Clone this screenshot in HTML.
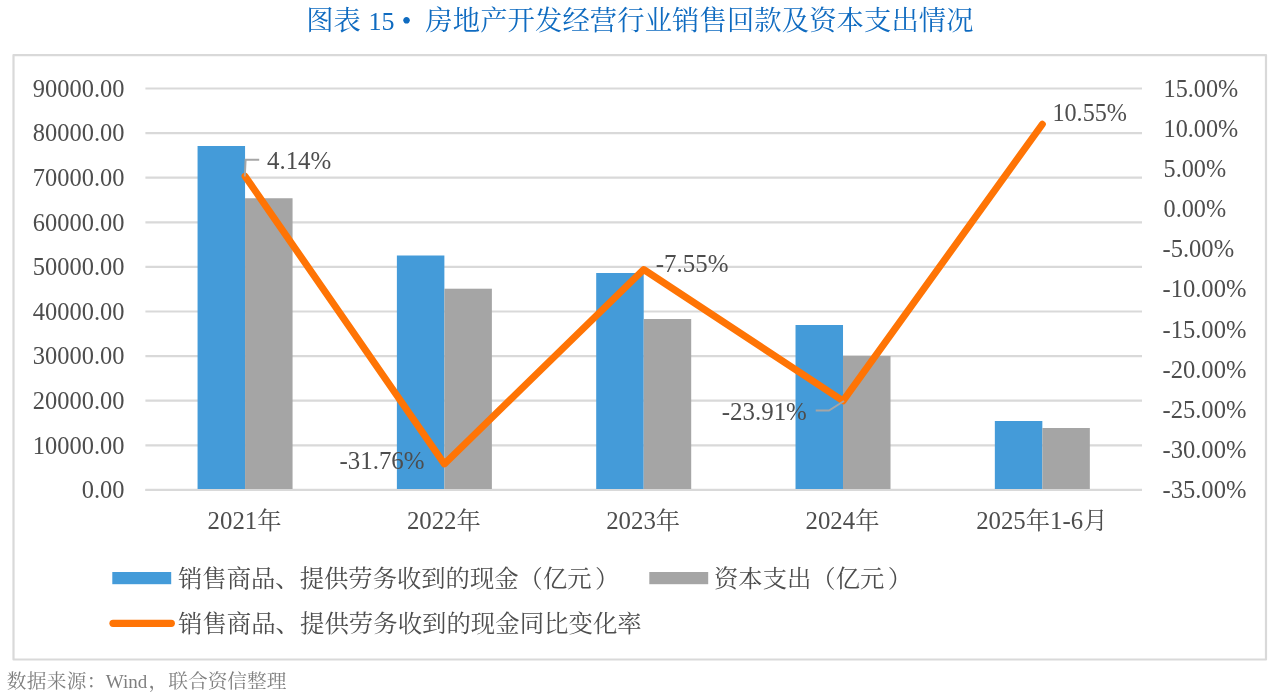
<!DOCTYPE html>
<html lang="zh-CN">
<head>
<meta charset="utf-8">
<title>图表 15 房地产开发经营行业销售回款及资本支出情况</title>
<style>
html,body{margin:0;padding:0;background:#fff;}
body{width:1280px;height:700px;overflow:hidden;position:relative;font-family:"Liberation Serif", "Noto Serif CJK SC", serif;}
svg{position:absolute;left:0;top:0;display:block;}
text{font-family:"Liberation Serif", "Noto Serif CJK SC", serif;}
.ax{font-size:24.2px;fill:#4d4d4d;}
.cj{font-size:24.34px;fill:#4d4d4d;}
.title{font-size:27.3px;fill:#0f6bc0;}
.xl{font-size:24.8px;}
.dl{font-size:24.9px;}
.src{font-size:19.7px;fill:#7f7f7f;}
</style>
</head>
<body>
<svg width="1280" height="700" viewBox="0 0 1280 700">
<rect x="0" y="0" width="1280" height="700" fill="#ffffff"/>
<text class="title" y="29.5"><tspan x="306.2">图表 </tspan><tspan x="368.5" style="font-size:26px">15</tspan><tspan x="401.7">• </tspan><tspan x="425.3" style="letter-spacing:0.12px">房地产开发经营行业销售回款及资本支出情况</tspan></text>
<rect x="13.5" y="55.1" width="1252.5" height="604.4" fill="#ffffff" stroke="#d9d9d9" stroke-width="2.2" stroke-linejoin="round"/>

<line x1="145.4" y1="88.50" x2="1142.0" y2="88.50" stroke="#d9d9d9" stroke-width="2.2"/>
<line x1="145.4" y1="133.10" x2="1142.0" y2="133.10" stroke="#d9d9d9" stroke-width="2.2"/>
<line x1="145.4" y1="177.70" x2="1142.0" y2="177.70" stroke="#d9d9d9" stroke-width="2.2"/>
<line x1="145.4" y1="222.30" x2="1142.0" y2="222.30" stroke="#d9d9d9" stroke-width="2.2"/>
<line x1="145.4" y1="266.90" x2="1142.0" y2="266.90" stroke="#d9d9d9" stroke-width="2.2"/>
<line x1="145.4" y1="311.50" x2="1142.0" y2="311.50" stroke="#d9d9d9" stroke-width="2.2"/>
<line x1="145.4" y1="356.10" x2="1142.0" y2="356.10" stroke="#d9d9d9" stroke-width="2.2"/>
<line x1="145.4" y1="400.70" x2="1142.0" y2="400.70" stroke="#d9d9d9" stroke-width="2.2"/>
<line x1="145.4" y1="445.30" x2="1142.0" y2="445.30" stroke="#d9d9d9" stroke-width="2.2"/>
<line x1="145.4" y1="489.90" x2="1142.0" y2="489.90" stroke="#d9d9d9" stroke-width="2.2"/>
<text class="ax" style="font-size:24.45px" x="124.5" y="96.70" text-anchor="end">90000.00</text>
<text class="ax" style="font-size:24.45px" x="124.5" y="141.30" text-anchor="end">80000.00</text>
<text class="ax" style="font-size:24.45px" x="124.5" y="185.90" text-anchor="end">70000.00</text>
<text class="ax" style="font-size:24.45px" x="124.5" y="230.50" text-anchor="end">60000.00</text>
<text class="ax" style="font-size:24.45px" x="124.5" y="275.10" text-anchor="end">50000.00</text>
<text class="ax" style="font-size:24.45px" x="124.5" y="319.70" text-anchor="end">40000.00</text>
<text class="ax" style="font-size:24.45px" x="124.5" y="364.30" text-anchor="end">30000.00</text>
<text class="ax" style="font-size:24.45px" x="124.5" y="408.90" text-anchor="end">20000.00</text>
<text class="ax" style="font-size:24.45px" x="124.5" y="453.50" text-anchor="end">10000.00</text>
<text class="ax" style="font-size:24.45px" x="124.5" y="498.10" text-anchor="end">0.00</text>
<text class="ax" x="1163.6" y="96.70">15.00%</text>
<text class="ax" x="1163.6" y="136.84">10.00%</text>
<text class="ax" x="1163.6" y="176.98">5.00%</text>
<text class="ax" x="1163.6" y="217.12">0.00%</text>
<text class="ax" style="font-size:24.55px" x="1162.5" y="257.26">-5.00%</text>
<text class="ax" style="font-size:24.55px" x="1162.5" y="297.40">-10.00%</text>
<text class="ax" style="font-size:24.55px" x="1162.5" y="337.54">-15.00%</text>
<text class="ax" style="font-size:24.55px" x="1162.5" y="377.68">-20.00%</text>
<text class="ax" style="font-size:24.55px" x="1162.5" y="417.82">-25.00%</text>
<text class="ax" style="font-size:24.55px" x="1162.5" y="457.96">-30.00%</text>
<text class="ax" style="font-size:24.55px" x="1162.5" y="498.10">-35.00%</text>
<rect x="197.56" y="146.0" width="47.5" height="343.90" fill="#449bd9"/>
<rect x="245.06" y="198.25" width="47.5" height="291.65" fill="#a5a5a5"/>
<rect x="396.88" y="255.5" width="47.5" height="234.40" fill="#449bd9"/>
<rect x="444.38" y="288.7" width="47.5" height="201.20" fill="#a5a5a5"/>
<rect x="596.20" y="273" width="47.5" height="216.90" fill="#449bd9"/>
<rect x="643.70" y="319" width="47.5" height="170.90" fill="#a5a5a5"/>
<rect x="795.52" y="325" width="47.5" height="164.90" fill="#449bd9"/>
<rect x="843.02" y="356" width="47.5" height="133.90" fill="#a5a5a5"/>
<rect x="994.84" y="421" width="47.5" height="68.90" fill="#449bd9"/>
<rect x="1042.34" y="428" width="47.5" height="61.90" fill="#a5a5a5"/>
<line x1="145.4" y1="489.9" x2="1142.0" y2="489.9" stroke="#d9d9d9" stroke-width="2"/>
<text class="ax xl" x="244.56" y="529" text-anchor="middle">2021<tspan class="cj">年</tspan></text>
<text class="ax xl" x="443.88" y="529" text-anchor="middle">2022<tspan class="cj">年</tspan></text>
<text class="ax xl" x="643.20" y="529" text-anchor="middle">2023<tspan class="cj">年</tspan></text>
<text class="ax xl" x="842.52" y="529" text-anchor="middle">2024<tspan class="cj">年</tspan></text>
<text class="ax xl" x="1041.84" y="529" text-anchor="middle">2025<tspan class="cj">年</tspan>1-6<tspan class="cj">月</tspan></text>
<polyline points="245.06,176.18 444.38,463.89 643.70,269.53 843.02,400.87 1042.34,124.22" fill="none" stroke="#ff7405" stroke-width="7" stroke-linejoin="round" stroke-linecap="round"/>
<polyline points="244.8,176.5 245.6,159.8 259.2,159.8" fill="none" stroke="#a6a6a6" stroke-width="2"/>
<polyline points="844,401 829,410.6 815.7,410.6" fill="none" stroke="#a6a6a6" stroke-width="2"/>
<text class="ax dl" x="267" y="169.3">4.14%</text>
<text class="ax dl" x="339.5" y="468.5">-31.76%</text>
<text class="ax dl" x="655.8" y="272.3">-7.55%</text>
<text class="ax dl" x="721.8" y="419.5">-23.91%</text>
<text class="ax" x="1052.4" y="121.4">10.55%</text>
<rect x="112.3" y="572" width="58.9" height="12.2" fill="#449bd9"/>
<text class="cj" x="178" y="587">销售商品、提供劳务收到的现金（亿元<tspan dx="3.5">）</tspan></text>
<rect x="649.3" y="572" width="58.9" height="12.2" fill="#a5a5a5"/>
<text class="cj" x="714" y="587">资本支出（亿元<tspan dx="3.5">）</tspan></text>
<line x1="113" y1="623.3" x2="171.3" y2="623.3" stroke="#ff7405" stroke-width="7.2" stroke-linecap="round"/>
<text class="cj" style="font-size:24.42px" x="178" y="632">销售商品、提供劳务收到的现金同比变化率</text>
<text class="src" y="688.3"><tspan x="6.8" style="letter-spacing:0.3px">数据来源：</tspan><tspan x="105.8" style="font-size:19px">Wind</tspan><tspan x="148.6">，联合资信整理</tspan></text>
</svg>
</body>
</html>
